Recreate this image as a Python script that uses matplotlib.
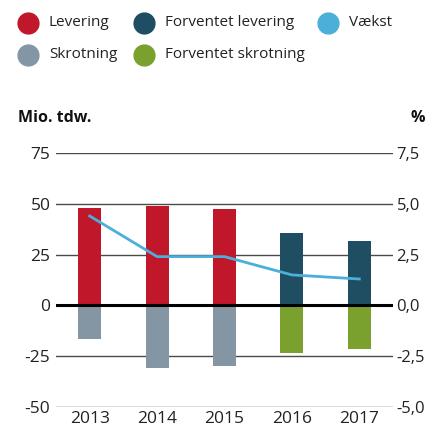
import matplotlib.pyplot as plt
import numpy as np

plt.rcParams['font.family'] = ['Open Sans', 'DejaVu Sans']

years = ['2013', '2014', '2015', '2016', '2017']
levering = [47.9, 48.7, 47.4, None, None]
forv_levering = [None, None, None, 35.6, 31.7]
skrotning = [-16.6, -30.9, -29.6, None, None]
forv_skrotning = [None, None, None, -23.5, -21.5]
vaekst = [4.4, 2.4, 2.4, 1.5, 1.3]

c_lev = '#C0172B'
c_flev = '#1F4E63'
c_vaek = '#4BAFD9'
c_skr = '#8496A3'
c_fskr = '#7AA02E'

W, H = 427, 430
fig = plt.figure(figsize=(W / 100, H / 100), dpi=100)
ax = fig.add_axes([56 / W, (H - 407) / H, (393 - 56) / W, (407 - 153) / H])
x = np.arange(len(years))
bw = 0.34


def vals(lst):
    return [np.nan if v is None else v for v in lst]


ax.bar(x, vals(levering), bw, color=c_lev, zorder=2)
ax.bar(x, vals(forv_levering), bw, color=c_flev, zorder=2)
ax.bar(x, vals(skrotning), bw, color=c_skr, zorder=2)
ax.bar(x, vals(forv_skrotning), bw, color=c_fskr, zorder=2)

ax.set_xlim(-0.5, 4.5)
ax.set_ylim(-50, 75)
ax.set_yticks([-50, -25, 0, 25, 50, 75])
ax.set_yticklabels(['-50', '-25', '0', '25', '50', '75'])
ax.set_xticks(x)
ax.set_xticklabels(years)
for s in ax.spines.values():
    s.set_visible(False)
ax.grid(axis='y', color='#4a4a4a', linewidth=1.0, zorder=0)
ax.axhline(0, color='black', linewidth=2.2, zorder=3)
ax.tick_params(axis='both', length=0, labelsize=12.5, colors='#222222', pad=4)
ax.tick_params(axis='x', pad=3)

ax2 = ax.twinx()
ax2.set_ylim(-5, 7.5)
ax2.set_yticks([-5, -2.5, 0, 2.5, 5, 7.5])
ax2.set_yticklabels(['-5,0', '-2,5', '0,0', '2,5', '5,0', '7,5'])
for s in ax2.spines.values():
    s.set_visible(False)
ax2.tick_params(axis='y', length=0, labelsize=12, colors='#222222', pad=2.5)
ax2.plot(x, vaekst, color=c_vaek, linewidth=2, zorder=4)

fig.text(18 / W, 1 - 118 / H, 'Mio. tdw.', fontsize=11.5, fontweight='bold', va='center', ha='left', color='#111111')
fig.text(425 / W, 1 - 118 / H, '%', fontsize=11.5, fontweight='bold', va='center', ha='right', color='#111111')

# legend
lax = fig.add_axes([0, 0, 1, 1])
lax.set_xlim(0, W)
lax.set_ylim(H, 0)
lax.axis('off')
items = [(28, 23, c_lev, 'Levering'), (144, 23, c_flev, 'Forventet levering'),
         (328, 23, c_vaek, 'Vækst'), (28, 55, c_skr, 'Skrotning'),
         (144, 55, c_fskr, 'Forventet skrotning')]
for cx, cy, col, lab in items:
    lax.plot(cx, cy, 'o', markersize=15, color=col)
    lax.text(cx + 21, cy, lab, fontsize=11, va='center', ha='left', color='#222222')

plt.savefig('out.png', dpi=100)
